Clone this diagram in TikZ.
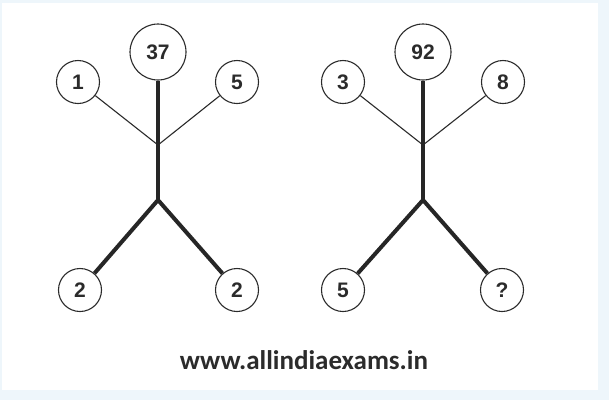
\documentclass[tikz,border=0pt]{standalone}
\usepackage{fontspec}
\setmainfont{Liberation Sans}
\newfontfamily\urlfont{Carlito}
\usepackage{tikz}
\definecolor{pagetint}{HTML}{EEF6FB}
\definecolor{ink}{HTML}{2B2B2B}

\begin{document}
\begin{tikzpicture}[x=1pt, y=-1pt,
	node/.style = {draw=ink, circle, line width=1.1pt, fill=white, inner sep=0pt, minimum size=43pt, font=\bfseries\fontsize{21}{21}\selectfont, text=ink},
	big/.style = {node, minimum size=56pt},
	thin/.style = {draw=ink, line width=1.1pt},
	thick/.style = {draw=black!85, line width=4pt}]
	\fill[pagetint] (0,0) rectangle (609,400);
	\fill[white] (2,3) rectangle (598,390);
	\useasboundingbox (0,0) rectangle (609,400);
	% left figure
	\coordinate (jA) at (158,145);
	\coordinate (fA) at (158,200);
	\node[big] (topA) at (158,52) {37};
	\node[node] (leftA) at (78,82) {1};
	\node[node] (rightA) at (237,82) {5};
	\node[node] (botlA) at (80,290) {2};
	\node[node] (botrA) at (237,290) {2};
	\draw[thin] (leftA) -- (jA) -- (rightA);
	\draw[thick] (topA) -- (fA);
	\draw[thick] (botlA) -- (fA) -- (botrA);
	% right figure
	\coordinate (jB) at (423,145);
	\coordinate (fB) at (423,200);
	\node[big] (topB) at (423,52) {92};
	\node[node] (leftB) at (343,82) {3};
	\node[node] (rightB) at (503,82) {8};
	\node[node] (botlB) at (343,290) {5};
	\node[node] (botrB) at (502,290) {?};
	\draw[thin] (leftB) -- (jB) -- (rightB);
	\draw[thick] (topB) -- (fB);
	\draw[thick] (botlB) -- (fB) -- (botrB);
	% caption
	\node[font=\urlfont\bfseries\fontsize{27}{27}\selectfont, text=ink] (site) at (304,360) {www.allindiaexams.in};
\end{tikzpicture}
\end{document}
